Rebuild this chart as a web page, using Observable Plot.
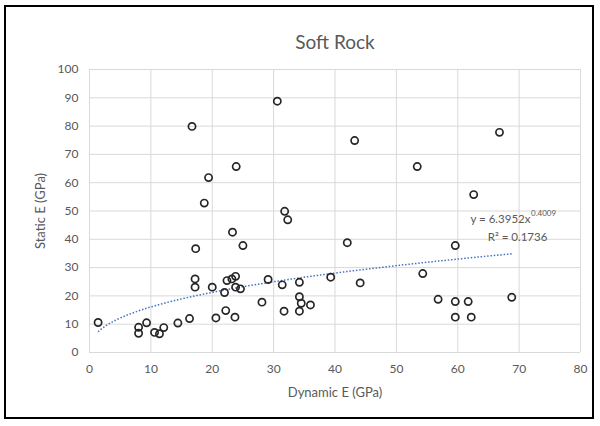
<!DOCTYPE html>
<html><head><meta charset="utf-8">
<script src="https://cdn.jsdelivr.net/npm/d3@7"></script>
<script src="https://cdn.jsdelivr.net/npm/@observablehq/plot@0.6"></script>
<style>
body{margin:0;background:#fff;font-family:Lato,"Open Sans",sans-serif}
#wrap{position:relative;width:600px;height:426px}
#border{position:absolute;left:4px;top:5px;width:590px;height:414px;border:2px solid #000;pointer-events:none;box-sizing:border-box}
</style>
</head><body><div id="wrap"><div id="border"></div></div>
<script>
const title = "Soft Rock";
const xLabel = "Dynamic E (GPa)";
const yLabel = "Static E (GPa)";
const xTicks = [0,10,20,30,40,50,60,70,80];
const yTicks = [0,10,20,30,40,50,60,70,80,90,100];

const dynamicE = [16.7,30.6,43.2,66.8,53.4,23.9,19.4,62.6,18.7,31.8,32.3,23.3,42.0,59.6,25.0,17.3,
  17.2,17.2,20.0,22.0,22.4,23.2,23.8,23.8,24.6,29.1,31.4,34.2,39.3,44.1,54.3,28.1,34.2,34.5,36.0,31.7,34.2,56.8,59.6,61.7,59.6,62.2,68.8,
  20.6,22.2,23.7,16.3,14.4,12.1,11.4,10.6,9.3,8.0,8.0,1.4];
const staticE = [79.9,88.8,74.9,77.8,65.7,65.7,61.8,55.8,52.8,49.9,46.9,42.5,38.8,37.8,37.8,36.7,
  26.0,23.1,23.1,21.2,25.4,26.0,26.9,23.1,22.5,25.8,23.9,24.8,26.6,24.6,27.9,17.8,19.7,17.4,16.8,14.6,14.6,18.8,18.0,18.0,12.5,12.5,19.5,
  12.2,14.8,12.5,12.0,10.4,8.8,6.6,7.1,10.5,8.9,6.8,10.6];

const trendA = 6.3952, trendB = 0.4009;
const eqMain = "y = 6.3952x";
const eqExp = "0.4009";
const eqR2 = "R² = 0.1736";

const points = dynamicE.map((x, i) => ({x, y: staticE[i]}));
const xmin = d3.min(dynamicE), xmax = d3.max(dynamicE);
const trend = d3.range(xmin, xmax, 0.25).concat([xmax]).map(x => ({x, y: trendA * Math.pow(x, trendB)}));

const txt = "#595959";
const chart = Plot.plot({
  width: 600, height: 426,
  marginLeft: 89, marginRight: 20, marginTop: 69, marginBottom: 74,
  style: {fontFamily: "Lato, 'Open Sans', sans-serif", background: "transparent"},
  x: {domain: [0, 80], ticks: xTicks},
  y: {domain: [0, 100], ticks: yTicks},
  marks: [
    Plot.gridX(xTicks, {stroke: "#d9d9d9", strokeOpacity: 1}),
    Plot.gridY(yTicks, {stroke: "#d9d9d9", strokeOpacity: 1}),
    Plot.axisX(xTicks, {tickSize: 0, tickPadding: 12, fontSize: 12, fill: txt, label: xLabel, labelAnchor: "center", labelArrow: "none", labelOffset: 44}),
    Plot.axisY(yTicks, {tickSize: 0, tickPadding: 11, fontSize: 12, fill: txt, label: yLabel, labelAnchor: "center", labelArrow: "none", labelOffset: 54}),
    Plot.line(trend, {x: "x", y: "y", stroke: "#4472C4", strokeWidth: 1.5, strokeDasharray: "1.5,1.8", strokeLinecap: "butt"}),
    Plot.dot(points, {x: "x", y: "y", r: 3.6, stroke: "#262626", strokeWidth: 1.7, fill: "none"}),
    Plot.text([title], {frameAnchor: "top", dy: -34, fontSize: 19, fill: txt}),
    Plot.text([eqMain], {frameAnchor: "top-right", textAnchor: "end", dx: -50, dy: 145, fontSize: 11.5, fill: txt}),
    Plot.text([eqExp], {frameAnchor: "top-right", textAnchor: "start", dx: -49.5, dy: 141, fontSize: 8, fill: txt}),
    Plot.text([eqR2], {frameAnchor: "top-right", textAnchor: "middle", dx: -63, dy: 163, fontSize: 11.5, fill: txt})
  ]
});
chart.querySelectorAll("[aria-label='x-axis label'] text, [aria-label='y-axis label'] text").forEach(t => { t.setAttribute("font-size", "13"); t.setAttribute("fill", txt); });
document.getElementById("wrap").prepend(chart);
</script>
</body></html>
